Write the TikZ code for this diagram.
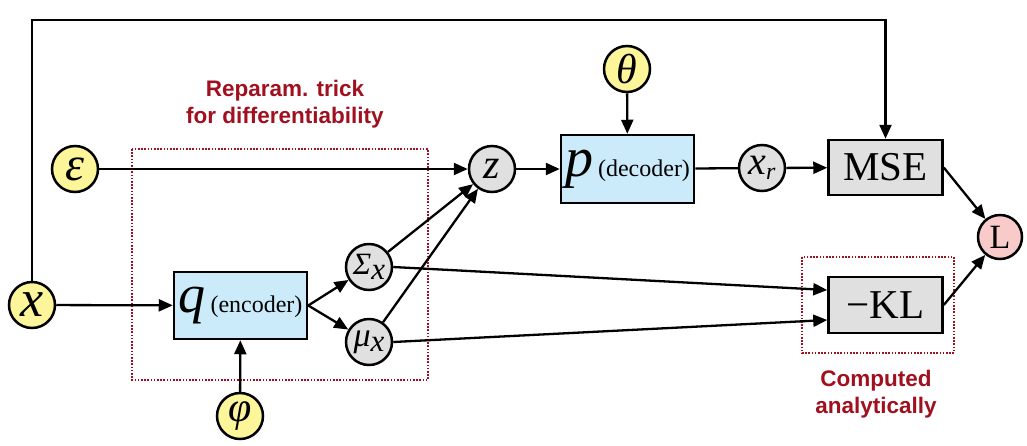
\documentclass[tikz,border=0pt]{standalone}
\usepackage{fontspec}
\setmainfont{Liberation Serif}
\newfontfamily\sansb{Liberation Sans}
\usetikzlibrary{arrows.meta}
\definecolor{yel}{HTML}{FDF59A}
\definecolor{gry}{HTML}{E0E0E0}
\definecolor{blu}{HTML}{CBEBFA}
\definecolor{pnk}{HTML}{F9CACA}
\definecolor{dred}{HTML}{A0101E}
\newcommand\fs[1]{\fontsize{#1}{#1}\selectfont}
\tikzset{
  circ/.style={circle, draw, line width=2.5pt, minimum size=46pt, inner sep=0pt},
  yc/.style={circ, fill=yel},
  gc/.style={circ, fill=gry},
  boxn/.style={draw, line width=2.5pt, rectangle, inner sep=0pt},
  conn/.style={line width=2.3pt, -{Triangle[length=14pt,width=12pt]}},
  plain/.style={line width=2.3pt},
  redbox/.style={draw=dred, line width=1.4pt, dash pattern=on 1.6pt off 1.6pt},
  redtxt/.style={text=dred, align=center, font=\sansb\bfseries\fontsize{22.5}{27}\selectfont}
}
\begin{document}
\begin{tikzpicture}[x=1pt,y=-1pt]
\useasboundingbox (0,0) rectangle (1027,445);
% dashed boxes
\draw[redbox] (132,149) rectangle (428,380);
\draw[redbox] (802,257) rectangle (954,353);
% nodes
\node[yc] (x) at (32,305) {\fs{52}\itshape x};
\node[yc] (eps) at (75,169) {\fs{48}\itshape ε};
\node[yc] (phi) at (240,416) {\fs{42}\itshape φ};
\node[yc] (theta) at (627,69) {\fs{42}\itshape θ};
\node[gc] (sig) at (369,267) {\fs{31}\itshape Σ\raisebox{-5pt}{\fs{31}\itshape x}};
\node[gc] (mu) at (369,342) {\fs{34}\itshape μ\raisebox{-5pt}{\fs{31}\itshape x}};
\node[gc] (z) at (492,169) {\fs{42}\itshape z};
\node[gc] (xr) at (762,168) {\fs{40}\itshape x\raisebox{-5pt}{\fs{24}\itshape r}};
\node[circ, fill=pnk, minimum size=44pt] (L) at (1000,237) {\fs{34}L};
\node[boxn, fill=blu, minimum width=133pt, minimum height=67pt] (q) at (240.5,305.5)
  {{\fs{54}\itshape q}\hspace{5pt}{\fs{24}(encoder)}};
\node[boxn, fill=blu, minimum width=133pt, minimum height=68pt] (p) at (627.5,169)
  {{\fs{56}\itshape p}\hspace{5pt}{\fs{24}(decoder)}};
\node[boxn, fill=gry, minimum width=114pt, minimum height=55pt] (MSE) at (885.5,167.5) {\fs{41}MSE};
\node[boxn, fill=gry, minimum width=114pt, minimum height=56pt] (KL) at (885.5,305) {\fs{41}−KL};
% texts
\node[redtxt] (t1) at (285,104) {Reparam. trick\\for differentiability};
\node[redtxt] (t2) at (876,394) {Computed\\analytically};
% connectors
\coordinate (topy) at (0,20);
\draw[conn] (x) -- (q);
\draw[conn] (x.north) -- (x.north |- topy) -| (MSE.north);
\draw[conn] (eps) -- (z);
\draw[conn] (q.east) -- (sig);
\draw[conn] (q.east) -- (mu);
\draw[conn] (sig) -- (z);
\draw[conn] (mu) -- (z);
\draw[conn] (sig.east) -- ([yshift=15pt]KL.west);
\draw[conn] (mu.east) -- ([yshift=-15pt]KL.west);
\draw[conn] (z) -- (p);
\draw[conn] (theta) -- (p);
\draw[plain] (p) -- (xr);
\draw[conn] (xr) -- (MSE);
\draw[conn] (MSE.east) -- (L);
\draw[conn] (KL.east) -- (L);
\draw[conn] (phi) -- (q);
\end{tikzpicture}
\end{document}
